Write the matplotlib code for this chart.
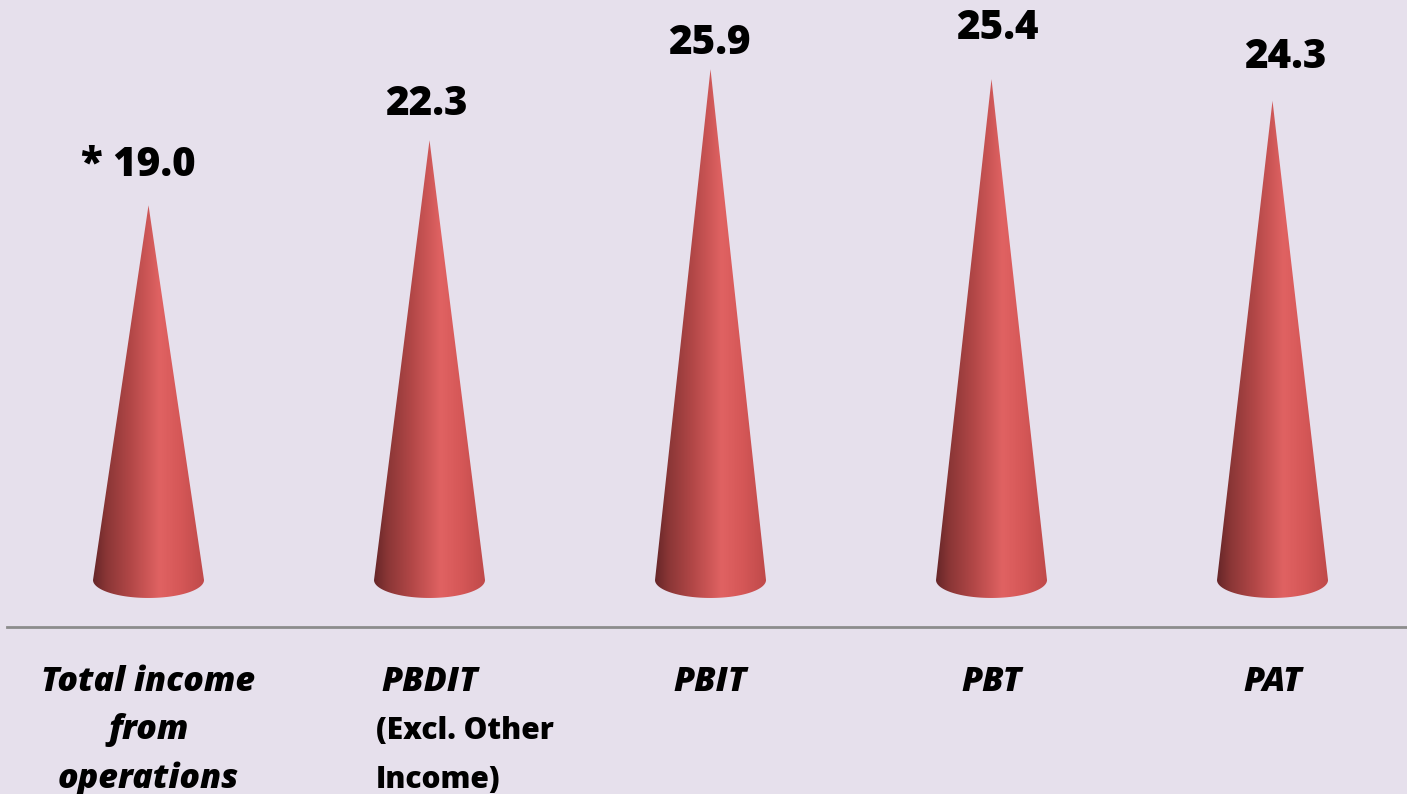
import numpy as np
import matplotlib
matplotlib.use("Agg")
import matplotlib.pyplot as plt
from matplotlib.colors import LinearSegmentedColormap
from matplotlib.path import Path
from matplotlib.patches import PathPatch

# Growth figures (%) for each measure
categories = ["Total income\nfrom\noperations", "PBDIT", "PBIT", "PBT", "PAT"]
sub_notes = ["", "(Excl. Other\nIncome)", "", "", ""]
values = [19.0, 22.3, 25.9, 25.4, 24.3]
value_prefix = ["* ", "", "", "", ""]

BG = "#E6E0EC"
FONT = "Open Sans"
cone_cmap = LinearSegmentedColormap.from_list(
    "cone",
    [(0.00, "#662628"), (0.12, "#8a3636"), (0.35, "#b44848"),
     (0.60, "#e06262"), (0.78, "#d65858"), (1.00, "#c04a4a")],
)

fig = plt.figure(figsize=(14.07, 7.94), dpi=100, facecolor=BG)
ax = fig.add_axes([0, 0, 1, 1])
ax.set_facecolor(BG)
ax.set_xlim(-0.5285, 4.4786)
ax.set_ylim(-10.85, 29.41)
ax.axis("off")

half_w = 0.1975     # half base width of each cone (category units)
ell_h = 0.91        # half height of the base ellipse (value units)

grad = np.linspace(0, 1, 256).reshape(1, -1)
for i, v in enumerate(values):
    # outline: left base corner -> tip -> right base corner -> lower half ellipse
    t = np.linspace(0, np.pi, 80)
    ex = i + half_w * np.cos(t)
    ey = -ell_h * np.sin(t)
    verts = [(i - half_w, 0), (i, v), (i + half_w, 0)] + list(zip(ex, ey))
    verts.append(verts[0])
    codes = [Path.MOVETO] + [Path.LINETO] * (len(verts) - 2) + [Path.CLOSEPOLY]
    path = Path(verts, codes)
    patch = PathPatch(path, facecolor="none", edgecolor="none")
    ax.add_patch(patch)
    im = ax.imshow(grad, cmap=cone_cmap, aspect="auto", interpolation="bilinear",
                   extent=[i - half_w, i + half_w, -ell_h, v], zorder=2)
    im.set_clip_path(patch)

# value labels above the tips
label_offsets = [(-10, 29), (-3, 25), (-1, 15), (6, 40), (13, 33)]
for i, v in enumerate(values):
    dx, dy = label_offsets[i]
    ax.annotate(f"{value_prefix[i]}{v:.1f}", xy=(i, v), xytext=(dx, dy),
                textcoords="offset pixels", ha="center", va="baseline",
                fontsize=29, fontweight=800, family=FONT, color="black")

# baseline rule
ax.axhline(-2.38, xmin=0.005, xmax=1.0, color="#8c8c8c", lw=2, zorder=1)

# category names (bold italic) and notes (bold)
line_step = 2.45
first_base = -5.63
for i, name in enumerate(categories):
    for k, line in enumerate(name.split("\n")):
        ax.text(i, first_base - k * line_step, line, ha="center", va="baseline",
                fontsize=24.5, fontweight=800, fontstyle="italic",
                family=FONT, color="black")
    if sub_notes[i]:
        for k, line in enumerate(sub_notes[i].split("\n")):
            ax.text(i - 0.19, first_base - (k + 1) * line_step, line,
                    ha="left", va="baseline", fontsize=21.5, fontweight=800,
                    family=FONT, color="black")

fig.savefig("out.png", dpi=100, facecolor=BG)
